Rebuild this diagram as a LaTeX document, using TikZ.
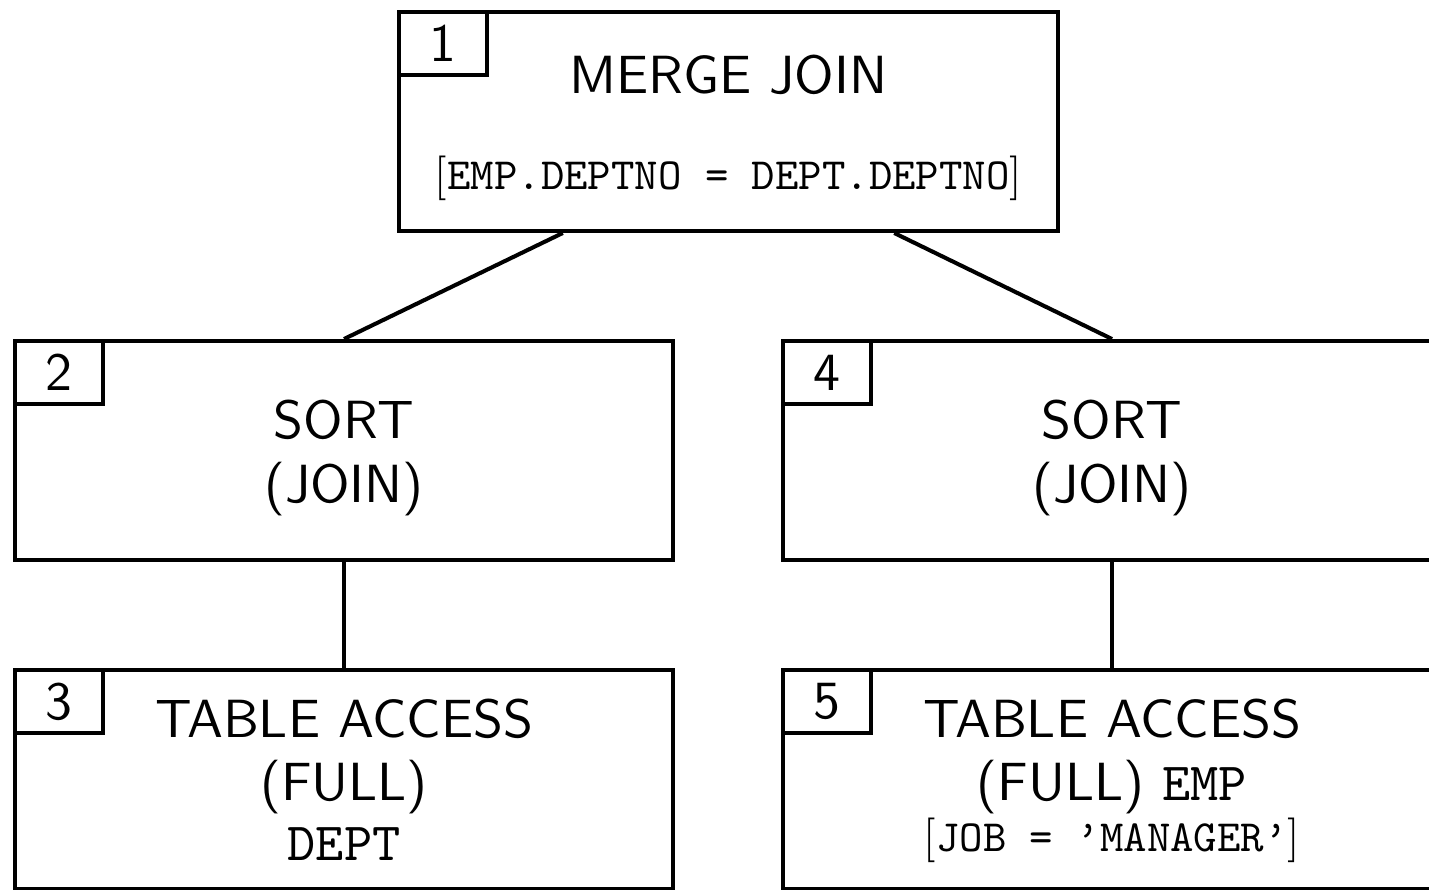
\documentclass[tikz,border=0pt]{standalone}
\usepackage{fontspec}
\usepackage{tikz}
\usetikzlibrary{calc}
\newfontfamily\plansans[Extension=.otf]{lmsans10-regular}
\newfontfamily\planmono[Extension=.otf]{lmmono10-regular}
\newfontfamily\planroman[Extension=.otf]{lmroman10-regular}
\newcommand{\bigsans}{\plansans\fontsize{30.6}{36}\selectfont}
\newcommand{\bigmono}{\planmono\fontsize{30.6}{36}\selectfont}
\newcommand{\smallmono}{\planmono\fontsize{25.4}{30}\selectfont}
\tikzset{
  planbox/.style={draw, line width=2.3pt, minimum width=13.18cm, minimum height=4.38cm, inner sep=0pt},
  numbox/.style={draw, line width=2.3pt, minimum width=1.76cm, minimum height=1.26cm, inner sep=0pt, anchor=north west, font=\bigsans},
  bigline/.style={anchor=base, inner sep=0pt, font=\bigsans},
  monoline/.style={anchor=base, inner sep=0pt, font=\bigmono},
  condline/.style={anchor=base, inner sep=0pt, font=\smallmono},
  link/.style={line width=2.3pt}
}
\begin{document}
\begin{tikzpicture}[x=0.02cm,y=-0.02cm]
\clip (0,0) rectangle (1429,889);
\node [planbox] (merge) at (728.5,121.5) {};
\node [numbox] (nmerge) at (merge.north west) {1};
\node [bigline] (mergename) at (728.5,93) {MERGE JOIN};
\node [condline] (mergecond) at (728.5,189) {{\planroman[}EMP.DEPTNO = DEPT.DEPTNO{\planroman]}};
\node [planbox] (sortdept) at (344,450.5) {};
\node [numbox] (nsortdept) at (sortdept.north west) {2};
\node [bigline] (sortdeptname) at (344,438) {SORT};
\node [bigline] (sortdeptkind) at (344,502) {(JOIN)};
\node [planbox] (scandept) at (344,779.5) {};
\node [numbox] (nscandept) at (scandept.north west) {3};
\node [bigline] (scandeptname) at (344,737) {TABLE ACCESS};
\node [bigline] (scandeptkind) at (344,800) {(FULL)};
\node [monoline] (scandepttab) at (344,860) {DEPT};
\node [planbox] (sortemp) at (1112,450.5) {};
\node [numbox] (nsortemp) at (sortemp.north west) {4};
\node [bigline] (sortempname) at (1112,438) {SORT};
\node [bigline] (sortempkind) at (1112,502) {(JOIN)};
\node [planbox] (scanemp) at (1112,779.5) {};
\node [numbox] (nscanemp) at (scanemp.north west) {5};
\node [bigline] (scanempname) at (1112,737) {TABLE ACCESS};
\node [bigline] (scanempkind) at (1112,800) {(FULL) {\planmono EMP}};
\node [condline] (scanempcond) at (1112,851) {{\planroman[}JOB = ’MANAGER’{\planroman]}};
\draw [link] ($(merge.south west)!0.25!(merge.south east)$) -- (sortdept.north);
\draw [link] ($(merge.south west)!0.75!(merge.south east)$) -- (sortemp.north);
\draw [link] (sortdept.south) -- (scandept.north);
\draw [link] (sortemp.south) -- (scanemp.north);
\end{tikzpicture}
\end{document}
